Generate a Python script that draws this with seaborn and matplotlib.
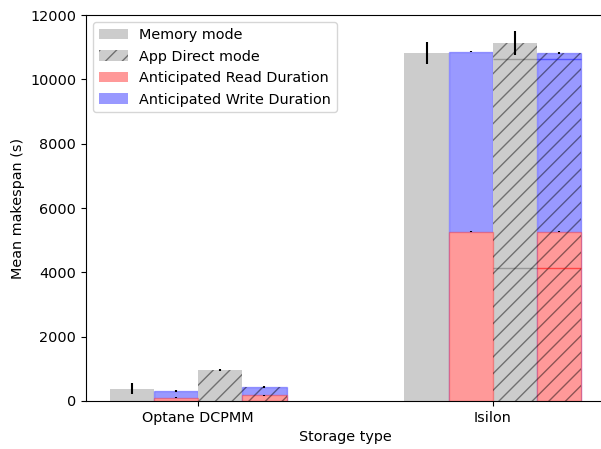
import numpy as np
import pandas as pd
import matplotlib
matplotlib.use("Agg")
import matplotlib.pyplot as plt
import seaborn as sns
from matplotlib.patches import Patch

plt.rcParams["font.size"] = 10.4

storage = ["Optane DCPMM", "Isilon"]
kinds = ["Memory mode", "Anticipated memory", "App Direct mode", "Anticipated app direct"]

memory_mean = [380, 10830]
memory_err = [165, 340]
appdirect_mean = [965, 11140]
appdirect_err = [20, 370]
ant_mem_read = [100, 5265]
ant_mem_write = [210, 5595]
ant_mem_read_err = [15, 20]
ant_mem_write_err = [25, 20]
ant_app_read = [185, 5265]
ant_app_write = [250, 5545]
ant_app_read_err = [15, 15]
ant_app_write_err = [45, 25]
# faint inner outlines visible inside the Isilon app direct bars
inner_low = [np.nan, 4135]
inner_high = [np.nan, 10630]

gray = "#cccccc"
red = "#ff9999"
blue = "#9999ff"
hatch_col = (0, 0, 0, 0.45)

ant_mem_total = np.add(ant_mem_read, ant_mem_write)
ant_app_total = np.add(ant_app_read, ant_app_write)

totals = pd.DataFrame({
    "storage": storage * 4,
    "kind": np.repeat(kinds, 2),
    "value": np.concatenate([memory_mean, ant_mem_total, appdirect_mean, ant_app_total]),
})
reads = pd.DataFrame({
    "storage": storage * 2,
    "kind": np.repeat([kinds[1], kinds[3]], 2),
    "value": np.concatenate([ant_mem_read, ant_app_read]),
})

fig = plt.figure(figsize=(6.01, 4.49), dpi=100)
ax = fig.add_axes([86 / 601, 48 / 449, 519 / 601, 386 / 449])

sns.barplot(data=totals, x="storage", y="value", hue="kind", hue_order=kinds,
            palette=[gray, blue, gray, blue], width=0.6, gap=0, errorbar=None,
            saturation=1, legend=False, ax=ax, linewidth=0)
sns.barplot(data=reads, x="storage", y="value", hue="kind", hue_order=kinds,
            palette=[gray, red, gray, red], width=0.6, gap=0, errorbar=None,
            saturation=1, legend=False, ax=ax, linewidth=0)

# edges on the anticipated bars
for p in ax.patches:
    fc = matplotlib.colors.to_hex(p.get_facecolor())
    if fc == blue:
        p.set_edgecolor((0, 0, 1, 0.3))
        p.set_linewidth(1)
    elif fc == red:
        p.set_edgecolor((1, 0, 0, 0.3))
        p.set_linewidth(1)

width = 0.15
offsets = (np.arange(4) - 1.5) * width
xs = np.arange(len(storage))

# thin horizontal outlines across the app direct pair
l3, r3 = xs + offsets[2] - width / 2, xs + offsets[2] + width / 2
l4, r4 = xs + offsets[3] - width / 2, xs + offsets[3] + width / 2
ax.hlines(inner_low, l3, r3, colors=[(0, 0, 0, 0.25)], linewidth=1)
ax.hlines(inner_high, l3, r3, colors=[(0, 0, 0, 0.25)], linewidth=1)
ax.hlines(inner_low, l4, r4, colors=[(1, 0, 0, 0.55)], linewidth=1)
ax.hlines(inner_high, l4, r4, colors=[(0, 0, 1, 0.45)], linewidth=1)

# hatch layer on the app direct bars
for x0, y0 in zip(xs + offsets[2], appdirect_mean):
    ax.bar(x0, y0, width=width, facecolor="none", edgecolor=hatch_col,
           hatch="//", linewidth=0)
for x0, y0 in zip(xs + offsets[3], ant_app_total):
    ax.bar(x0, y0, width=width, facecolor="none", edgecolor=hatch_col,
           hatch="//", linewidth=0)

ekw = dict(fmt="none", ecolor="black", elinewidth=1.5)
ax.errorbar(xs + offsets[0], memory_mean, yerr=memory_err, **ekw)
ax.errorbar(xs + offsets[1], ant_mem_total, yerr=ant_mem_write_err, **ekw)
ax.errorbar(xs + offsets[1], ant_mem_read, yerr=ant_mem_read_err, **ekw)
ax.errorbar(xs + offsets[2], appdirect_mean, yerr=appdirect_err, **ekw)
ax.errorbar(xs + offsets[3], ant_app_total, yerr=ant_app_write_err, **ekw)
ax.errorbar(xs + offsets[3], ant_app_read, yerr=ant_app_read_err, **ekw)

ax.set_xlim(-0.38, 1.38)
ax.set_ylim(0, 12000)
ax.set_xlabel("Storage type")
ax.set_ylabel("Mean makespan (s)")

handles = [
    Patch(facecolor=gray, label="Memory mode"),
    Patch(facecolor=gray, edgecolor=hatch_col, hatch="//", linewidth=0,
          label="App Direct mode"),
    Patch(facecolor=red, label="Anticipated Read Duration"),
    Patch(facecolor=blue, label="Anticipated Write Duration"),
]
ax.legend(handles=handles, loc="upper left", labelspacing=0.52)

fig.savefig("out.png", dpi=100)
